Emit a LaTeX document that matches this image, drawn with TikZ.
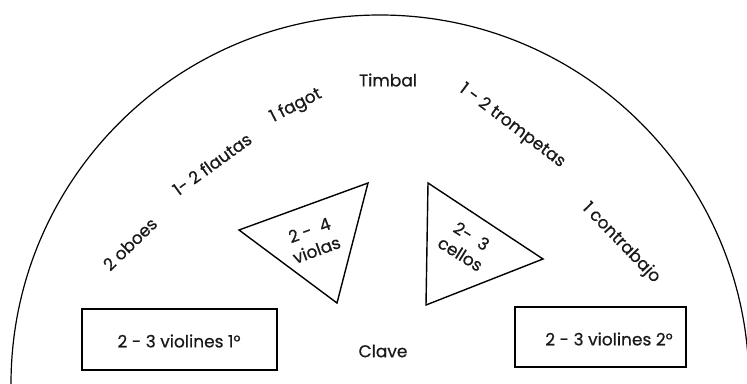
\documentclass[tikz,border=0pt]{standalone}
\usepackage{fontspec}
\setmainfont{Poppins}[FakeBold=0.6]
\begin{document}
\begin{tikzpicture}[x=1pt,y=-1pt,
  lbl/.style={font=\fontsize{17}{21}\selectfont, inner sep=0pt, text=black!90},
  boxed/.style={draw, line width=1.4pt},
  tri/.style={draw, line width=1.4pt, line join=miter}]
\useasboundingbox (0,0) rectangle (747,383);
\begin{scope}
\clip (0,0) rectangle (747,383);
\draw[line width=1.2pt] (380,384) circle (369);
\end{scope}
% labels around
\node[lbl, rotate=44] (oboes) at (130,244) {2 oboes};
\node[lbl, rotate=36] (flautas) at (212,164) {1- 2 flautas};
\node[lbl, rotate=27] (fagot) at (296,106) {1 fagot};
\node[lbl] (timbal) at (388,80) {Timbal};
\node[lbl, rotate=-37] (trompetas) at (512,126) {1 - 2 trompetas};
\node[lbl, rotate=-46] (contrabajo) at (621,243) {1 contrabajo};
\node[lbl] (clave) at (383,351) {Clave};
% boxes
\draw[boxed] (82,309) rectangle (277,370);
\node[lbl] (v1) at (179,341) {2 - 3 violines 1°};
\draw[boxed] (515,307) rectangle (686,367);
\node[lbl] (v2) at (609,339) {2 - 3 violines 2°};
% triangles
\coordinate (va) at (239,230);
\coordinate (vb) at (368,183);
\coordinate (vc) at (337,303);
\draw[tri] (va) -- (vb) -- (vc) -- cycle;
\node[lbl, rotate=20, align=center] (violas) at (313,240) {2 -\ \ 4\\violas};
\coordinate (ca) at (428,183);
\coordinate (cb) at (543,259);
\coordinate (cc) at (426,305);
\draw[tri] (ca) -- (cb) -- (cc) -- cycle;
\node[lbl, rotate=-32, align=center] (cellos) at (466,245) {2-\ \ 3\\cellos};
\end{tikzpicture}
\end{document}
